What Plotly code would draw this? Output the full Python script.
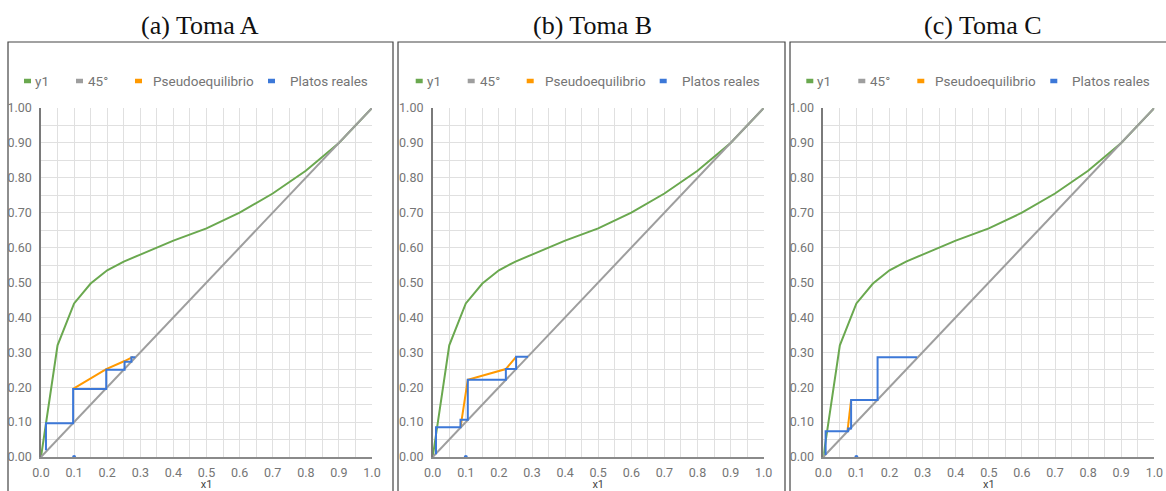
import plotly.graph_objects as go

# Equilibrium curve y1(x1), shared by the three runs
x_eq = [0.0, 0.05, 0.10, 0.15, 0.20, 0.25, 0.30, 0.35, 0.40, 0.50, 0.60, 0.70, 0.80, 0.90, 1.00]
y_eq = [0.0, 0.32, 0.44, 0.497, 0.535, 0.56, 0.58, 0.60, 0.62, 0.655, 0.70, 0.755, 0.82, 0.90, 1.00]

# 45 degree reference line
x_diag = [0.0, 1.0]
y_diag = [0.0, 1.0]

# Pseudo-equilibrium curves
pseudo_a_x = [0.097, 0.197, 0.2525, 0.278]
pseudo_a_y = [0.195, 0.252, 0.275, 0.287]
pseudo_b_x = [0.084, 0.106, 0.221, 0.252]
pseudo_b_y = [0.085, 0.221, 0.252, 0.287]
pseudo_c_x = [0.073, 0.084]
pseudo_c_y = [0.074, 0.163]

# Real plates (staircase)
plates_a_x = [0.015, 0.015, 0.097, 0.097, 0.197, 0.197, 0.2525, 0.2525, 0.273, 0.273, 0.285]
plates_a_y = [0.019, 0.097, 0.097, 0.195, 0.195, 0.25, 0.25, 0.273, 0.273, 0.286, 0.286]
plates_b_x = [0.010, 0.010, 0.084, 0.084, 0.106, 0.106, 0.221, 0.221, 0.252, 0.252, 0.288]
plates_b_y = [0.008, 0.085, 0.085, 0.107, 0.107, 0.221, 0.221, 0.252, 0.252, 0.287, 0.287]
plates_c_x = [0.007, 0.007, 0.075, 0.075, 0.084, 0.084, 0.164, 0.164, 0.283]
plates_c_y = [0.006, 0.074, 0.074, 0.082, 0.082, 0.163, 0.163, 0.286, 0.286]

# Feed point marker on the x axis
feed_x = [0.1]
feed_y = [0.0]

panel_titles = ["(a) Toma A", "(b) Toma B", "(c) Toma C"]
legend_names = ["y1", "45°", "Pseudoequilibrio", "Platos reales"]

GREEN = "#6aa84f"
GREY = "#9e9e9e"
ORANGE = "#ff9900"
BLUE = "#3c78d8"
TEXT = "#757575"
GRID = "#e0e0e0"

W, H = 1166, 491

pseudo = [(pseudo_a_x, pseudo_a_y), (pseudo_b_x, pseudo_b_y), (pseudo_c_x, pseudo_c_y)]
plates = [(plates_a_x, plates_a_y), (plates_b_x, plates_b_y), (plates_c_x, plates_c_y)]

# pixel layout of each panel: plot left, frame left/right, title centre
plot_left = [41, 432.7, 823.3]
plot_width = 331
frame_lr = [(8, 393), (398, 785), (790, 1175)]
title_cx = [200, 592, 983]
y_bottom_px, y_top_px = 457, 108
frame_top_px = 42


def px(x):
    return x / W


def py(y):
    return 1 - y / H


fig = go.Figure()
shapes = []
annotations = []
layout_axes = {}

for i in range(3):
    suffix = "" if i == 0 else str(i + 1)
    xa, ya = "x" + suffix, "y" + suffix
    px_, py_ = pseudo[i]
    bx, by = plates[i]

    fig.add_trace(go.Scatter(x=x_eq, y=y_eq, mode="lines", line=dict(color=GREEN, width=2),
                             xaxis=xa, yaxis=ya, showlegend=False, name=legend_names[0]))
    fig.add_trace(go.Scatter(x=x_diag, y=y_diag, mode="lines", line=dict(color=GREY, width=2),
                             xaxis=xa, yaxis=ya, showlegend=False, name=legend_names[1]))
    fig.add_trace(go.Scatter(x=px_, y=py_, mode="lines", line=dict(color=ORANGE, width=2),
                             xaxis=xa, yaxis=ya, showlegend=False, name=legend_names[2]))
    fig.add_trace(go.Scatter(x=bx, y=by, mode="lines", line=dict(color=BLUE, width=2),
                             xaxis=xa, yaxis=ya, showlegend=False, name=legend_names[3]))
    fig.add_trace(go.Scatter(x=feed_x, y=feed_y, mode="markers", marker=dict(color=BLUE, size=4),
                             xaxis=xa, yaxis=ya, showlegend=False, cliponaxis=False,
                             name=legend_names[3]))

    x0 = plot_left[i]
    layout_axes["xaxis" + suffix] = dict(
        domain=[px(x0), px(x0 + plot_width)], anchor=ya, range=[0, 1],
        automargin=False,
        tickmode="linear", tick0=0, dtick=0.1, tickformat=".1f",
        showgrid=True, gridcolor=GRID, gridwidth=1,
        minor=dict(dtick=0.05, showgrid=True, gridcolor=GRID, gridwidth=1),
        zeroline=False, showline=True, linecolor="#8a8a8a", linewidth=1.5,
        ticks="", ticklabelstandoff=3,
        tickfont=dict(family="Roboto", size=12.5, color=TEXT),
        title=dict(text="x1", font=dict(family="Roboto", size=11, color="#444"), standoff=1),
    )
    layout_axes["yaxis" + suffix] = dict(
        domain=[1 - y_bottom_px / H, 1 - y_top_px / H], anchor=xa, range=[0, 1],
        automargin=False,
        tickmode="linear", tick0=0, dtick=0.1, tickformat=".2f",
        showgrid=True, gridcolor=GRID, gridwidth=1,
        minor=dict(dtick=0.05, showgrid=True, gridcolor=GRID, gridwidth=1),
        zeroline=False, showline=True, linecolor="#7a7a7a", linewidth=1.5,
        ticks="", ticklabelstandoff=5,
        tickfont=dict(family="Roboto", size=12.5, color=TEXT),
    )

    # panel frame
    fl, fr = frame_lr[i]
    shapes.append(dict(type="rect", xref="paper", yref="paper",
                       x0=px(fl), x1=px(fr), y0=-0.05, y1=py(frame_top_px),
                       line=dict(color="#444", width=1.2), fillcolor="rgba(0,0,0,0)", layer="below"))

    # panel caption
    annotations.append(dict(text=panel_titles[i], xref="paper", yref="paper",
                            x=px(title_cx[i]), y=py(25), xanchor="center", yanchor="middle",
                            showarrow=False,
                            font=dict(family="Liberation Serif", size=26, color="#111")))

    # legend row
    ly = py(81)
    entries = [(legend_names[0], GREEN, -17, -8),
               (legend_names[1], GREY, 35, 45),
               (legend_names[2], ORANGE, 94, 110),
               (legend_names[3], BLUE, 227, 247)]
    for name, col, dash_off, text_off in entries:
        shapes.append(dict(type="line", xref="paper", yref="paper",
                           x0=px(x0 + dash_off), x1=px(x0 + dash_off + 7), y0=ly, y1=ly,
                           line=dict(color=col, width=4.5)))
        annotations.append(dict(text=name, xref="paper", yref="paper",
                                x=px(x0 + text_off), y=ly, xanchor="left", yanchor="middle",
                                showarrow=False,
                                font=dict(family="Roboto", size=13.5, color=TEXT)))

fig.update_layout(
    width=W, height=H,
    margin=dict(l=0, r=0, t=0, b=0, autoexpand=False),
    paper_bgcolor="white", plot_bgcolor="white",
    showlegend=False,
    shapes=shapes, annotations=annotations,
    **layout_axes,
)

fig.write_html("out.html")
